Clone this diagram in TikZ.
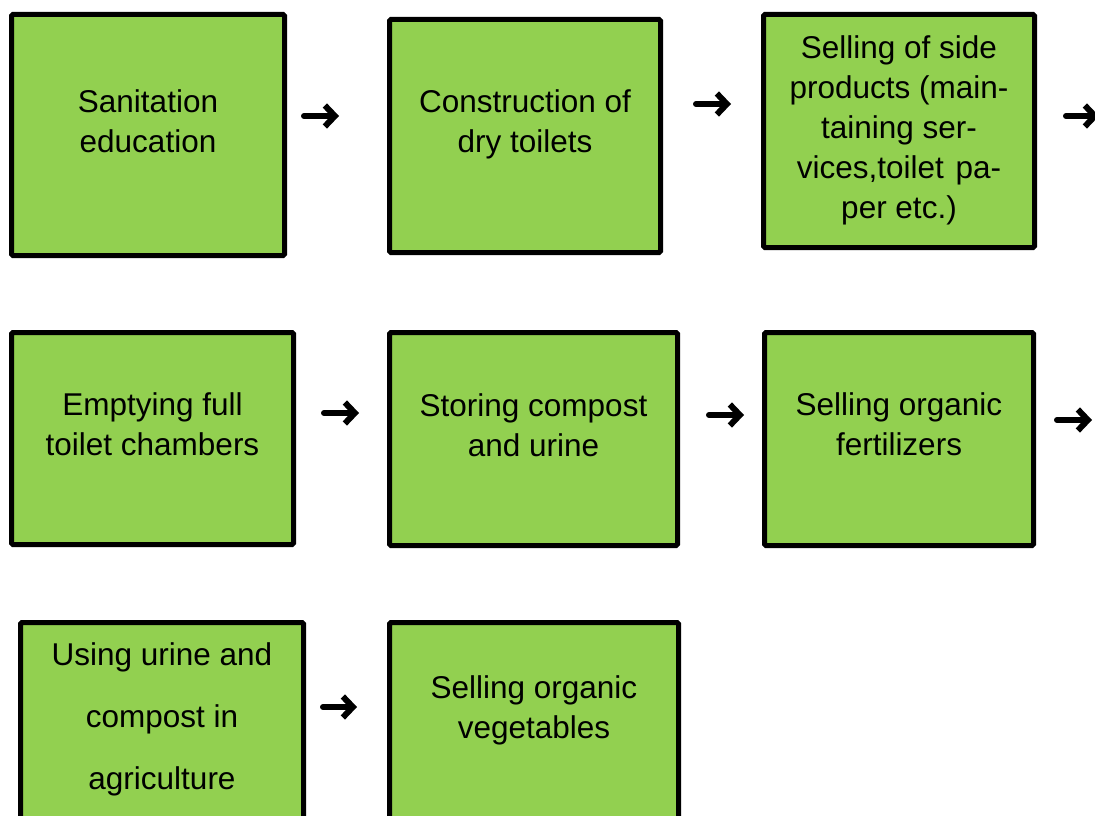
\documentclass[tikz,border=0pt]{standalone}
\usepackage{fontspec}
\setmainfont{Liberation Sans}
\usetikzlibrary{arrows.meta,positioning}
\definecolor{leaf}{HTML}{92D050}

\begin{document}
\begin{tikzpicture}[x=1pt,y=-1pt,
  stepbox/.style={draw=black,fill=leaf,line width=5pt,rounded corners=1.5pt,inner sep=0pt},
  steptext/.style={anchor=north,inner sep=0pt,align=center,font=\fontsize{31.5}{40}\selectfont},
  flow/.style={-{Straight Barb[length=10pt,width=21pt]},line width=6pt,line cap=round,line join=round}] %,font=\sffamily]
\useasboundingbox (0,0) rectangle (1095,816);
% first row
\node[stepbox,minimum width=273pt,minimum height=241pt] (Educ) at (148,135) {};
\node[stepbox,minimum width=271pt,minimum height=233pt] (Build) at (525,136) {};
\node[stepbox,minimum width=271pt,minimum height=233pt] (Side) at (899,131) {};
\node[steptext] (EducT) at (148,89) {Sanitation\\education};
\node[steptext] (BuildT) at (525,89) {Construction of\\dry toilets};
\node[steptext] (SideT) at (899,35) {Selling of side\\products (main-\\taining ser-\\vices,toilet\hspace{3pt} pa-\\per etc.)};
% second row
\node[stepbox,minimum width=282pt,minimum height=212pt] (Empty) at (152.5,438.5) {};
\node[stepbox,minimum width=288pt,minimum height=213pt] (Store) at (533.5,439) {};
\node[stepbox,minimum width=269pt,minimum height=213pt] (Fert) at (899,439) {};
\node[steptext] (EmptyT) at (152.5,392) {Emptying full\\toilet chambers};
\node[steptext] (StoreT) at (533.5,393) {Storing compost\\and urine};
\node[steptext] (FertT) at (899,392) {Selling organic\\fertilizers};
% third row
\node[stepbox,minimum width=283pt,minimum height=235pt] (Agri) at (162,740) {};
\node[stepbox,minimum width=289pt,minimum height=235pt] (Veg) at (534,740) {};
\node[steptext,font=\fontsize{31.5}{62}\selectfont] (AgriT) at (162,642) {Using urine and\\compost in\\agriculture};
\node[steptext] (VegT) at (534,675) {Selling organic\\vegetables};
\coordinate (NextA) at (1099,116);
\coordinate (NextB) at (1092,420);
\begin{scope}[flow]
\draw[shorten <=17pt,shorten >=48pt] (Educ.east |- 0,116) to (Build.west |- 0,116);
\draw[shorten <=33pt,shorten >=30pt] (Build.east |- 0,104) to (Side.west |- 0,104);
\draw[shorten <=29pt] (Side.east |- NextA) to (NextA);
\draw[shorten <=28pt,shorten >=28pt] (Empty.east |- 0,413) to (Store.west |- 0,413);
\draw[shorten <=29pt,shorten >=18pt] (Store.east |- 0,415) to (Fert.west |- 0,415);
\draw[shorten <=21pt] (Fert.east |- NextB) to (NextB);
\draw[shorten <=17pt,shorten >=30pt] (Agri.east |- 0,707) to (Veg.west |- 0,707);
\end{scope}
\end{tikzpicture}
\end{document}
